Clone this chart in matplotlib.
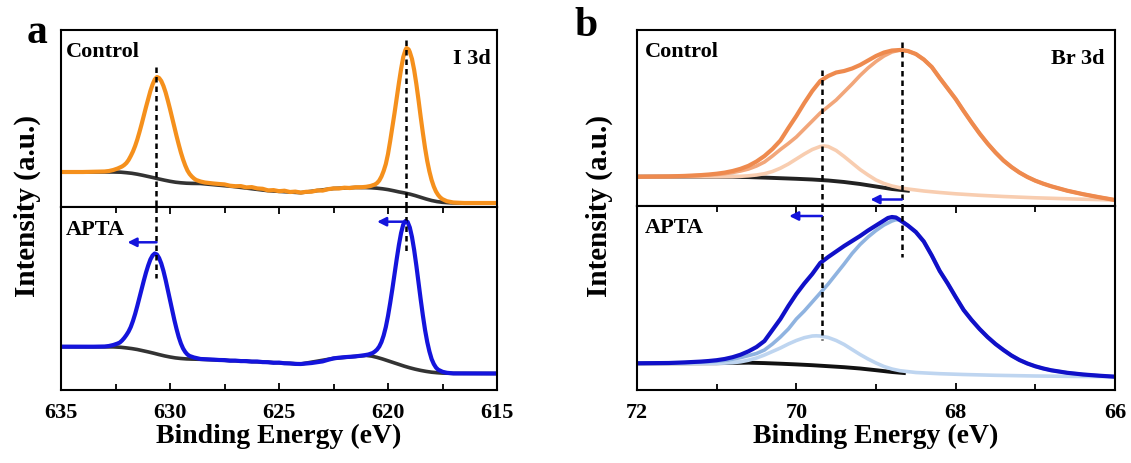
import matplotlib

matplotlib.use("Agg")

import matplotlib.pyplot as plt
from matplotlib.ticker import MultipleLocator

plt.rcParams["font.family"] = ["Liberation Serif", "DejaVu Serif"]
plt.rcParams["font.weight"] = "bold"
plt.rcParams["axes.labelweight"] = "bold"

# ---- I 3d, Control (upper a) ----
ctrl_i_x = [635, 634, 633.0, 632.8, 632.6, 632.4, 632.2, 632.1, 632.0, 631.9, 631.8, 631.7, 631.6,
            631.5, 631.4, 631.3, 631.2, 631.1, 631.0, 630.9, 630.8, 630.7, 630.6, 630.5, 630.4,
            630.3, 630.2, 630.1, 630.0, 629.9, 629.8, 629.7, 629.6, 629.5, 629.4, 629.3, 629.2,
            629.1, 629.0, 628.9, 628.8, 628.6, 628.4, 628.0, 627.75, 627.5, 627.25, 627.0, 626.75,
            626.5, 626.25, 626.0, 625.75, 625.5, 625.25, 625.0, 624.75, 624.5, 624.25, 624.0,
            623.75, 623.5, 623.25, 623.0, 622.75, 622.5, 622.25, 622.0, 621.75, 621.5, 621.2,
            621.0, 620.8, 620.6, 620.5, 620.4, 620.3, 620.2, 620.1, 620.0, 619.9, 619.8, 619.7,
            619.6, 619.5, 619.4, 619.3, 619.2, 619.15, 619.05, 619.0, 618.9, 618.8, 618.7, 618.6,
            618.5, 618.4, 618.3, 618.2, 618.1, 618.0, 617.9, 617.8, 617.7, 617.6, 617.5, 617.3,
            617.0, 616.5, 615.0]
ctrl_i_y = [35, 35, 35.5, 36, 37, 38.5, 40.5, 42, 44, 47, 51, 55.5, 61,
            67.5, 75, 83, 91.5, 100, 108, 116, 122.5, 127.5, 130, 129, 126,
            121, 114.5, 106.5, 98, 89, 80, 71, 62.5, 54.5, 47.5, 41.5, 36.5,
            33, 30.5, 28.5, 27, 25.5, 24.5, 23.5, 23.0, 22.6, 21.3, 20.8, 20.9,
            19.6, 19.9, 18.6, 18.2, 16.6, 16.9, 15.8, 16.3, 15.0, 15.4, 14.4,
            15.2, 15.3, 16.6, 16.4, 17.8, 18.6, 18.5, 19.3, 19.0, 19.7, 19.8,
            20.2, 21, 22.5, 24, 26.5, 30.5, 36, 43, 53, 66, 80, 94,
            109, 124, 138, 150, 157, 159, 157.5, 155, 148, 137, 123, 107,
            90, 74, 59, 46, 35.5, 27, 20.5, 15.5, 12, 9.5, 7.8, 5.8,
            4.5, 4, 4]
ctrl_i_bg_x = [635, 632.6, 632.25, 632.0, 631.75, 631.5, 631.25, 631.0, 630.75, 630.5, 630.25,
               630.0, 629.75, 629.5, 629.25, 629.0, 628.6, 627.1, 625.5, 624.0, 622.5, 621.5,
               621.0, 620.75, 620.5, 620.25, 620.0, 619.75, 619.5, 619.25, 619.0, 618.75, 618.5,
               618.25, 618.0, 617.75, 617.5, 617.25, 617.0, 615]
ctrl_i_bg_y = [35, 35, 34.8, 34.3, 33.7, 32.8, 31.7, 30.5, 29.3, 28, 26.8,
               25.7, 24.8, 24.2, 23.8, 23.6, 23.5, 20.5, 16.3, 14.3, 18.5, 19.5,
               19.4, 19.2, 18.8, 18.2, 17.4, 16.3, 15.1, 14.1, 12.9, 11.4, 9.7,
               8.0, 6.5, 5.4, 4.7, 4.3, 4.1, 4]

# ---- I 3d, APTA (lower a) ----
apta_i_x = [635, 633.5, 633.0, 632.8, 632.6, 632.4, 632.3, 632.2, 632.1, 632.0, 631.9, 631.8, 631.7,
            631.6, 631.5, 631.4, 631.3, 631.2, 631.1, 631.0, 630.9, 630.8, 630.7, 630.6, 630.5,
            630.4, 630.3, 630.2, 630.1, 630.0, 629.9, 629.8, 629.7, 629.6, 629.5, 629.4, 629.3,
            629.2, 629.1, 628.9, 628.6, 628.0, 627.75, 627.5, 627.25, 627.0, 626.75, 626.5,
            626.25, 626.0, 625.75, 625.5, 625.25, 625.0, 624.75, 624.5, 624.25, 624.0, 623.75,
            623.5, 623.25, 623.0, 622.75, 622.5, 622.25, 622.0, 621.75, 621.5, 621.1, 620.9,
            620.7, 620.6, 620.5, 620.4, 620.3, 620.2, 620.1, 620.0, 619.9, 619.8, 619.7, 619.6,
            619.5, 619.4, 619.3, 619.2, 619.1, 619.0, 618.9, 618.8, 618.7, 618.6, 618.5, 618.4,
            618.3, 618.2, 618.1, 618.0, 617.9, 617.8, 617.7, 617.5, 617.3, 617.0, 615.0]
apta_i_y = [43.3, 43.3, 43.5, 44, 45, 46.5, 47.5, 49.5, 52, 55, 58.5, 63, 69,
            76, 84, 92.5, 101, 109.5, 117.5, 124.5, 130.5, 134.5, 136.5, 135.5, 132,
            126.5, 119, 110, 100, 90, 80, 70, 61, 53, 46.5, 41.5, 38,
            35.5, 34, 32.5, 31, 30.4, 30.0, 29.9, 29.3, 29.4, 28.9, 28.9,
            28.4, 28.5, 27.9, 27.8, 27.2, 27.4, 26.7, 26.6, 26.1, 26.0, 26.5,
            27.0, 27.8, 28.6, 30.2, 31.6, 32.3, 32.8, 33.2, 33.6, 34.7, 35.5,
            37, 38.5, 40.5, 43.5, 48, 54.5, 63, 74, 87, 101, 116, 131,
            145, 157, 165.5, 169, 168, 162.5, 153, 140, 124.5, 107.5, 90.5, 74.5,
            60, 48, 38.5, 31, 26, 22.5, 20.3, 18.2, 17.2, 16.6, 16.5]
apta_i_bg_x = [635, 632.6, 632.25, 632.0, 631.75, 631.5, 631.25, 631.0, 630.75, 630.5, 630.25,
               630.0, 629.75, 629.5, 629.25, 629.0, 628.6, 627.1, 625.5, 624.0, 622.5, 621.5,
               621.0, 620.75, 620.5, 620.25, 620.0, 619.75, 619.5, 619.25, 619.0, 618.75, 618.5,
               618.25, 618.0, 617.75, 617.5, 617.0, 615]
apta_i_bg_y = [43.3, 43.1, 42.7, 42.1, 41.4, 40.5, 39.3, 38.1, 36.8, 35.4, 34.1,
               33.0, 32.1, 31.5, 31.1, 30.9, 30.7, 29.3, 27.7, 26, 31.6, 33.6,
               34.6, 33.9, 32.6, 31.0, 29.2, 27.4, 25.6, 23.8, 22.2, 20.8, 19.6,
               18.6, 17.8, 17.3, 16.9, 16.6, 16.5]

# ---- Br 3d, Control (upper b) ----
ctrl_br_x = [72.0, 71.6, 71.4, 71.2, 71.1, 71.0, 70.9, 70.8, 70.7, 70.6, 70.5, 70.4, 70.3, 70.2,
             70.1, 70.0, 69.9, 69.8, 69.7, 69.6, 69.5, 69.4, 69.3, 69.2, 69.1, 69.0, 68.9, 68.8,
             68.7, 68.6, 68.5, 68.4, 68.3, 68.2, 68.1, 68.0, 67.9, 67.8, 67.7, 67.6, 67.5, 67.4,
             67.3, 67.2, 67.1, 67.0, 66.9, 66.8, 66.6, 66.4, 66.2, 66.0]
ctrl_br_y = [29.3, 29.6, 30.1, 30.9, 31.5, 32.3, 33.4, 35, 37.2, 40.2, 44.5, 50, 57, 65.5,
             78, 90, 103, 115, 125, 130, 133.5, 135, 137.5, 141, 145.5, 150, 153.5, 155.5,
             156, 155, 152, 146.5, 139, 128, 117.5, 107, 95, 83.5, 72.5, 62.5, 53.5, 45.5,
             39, 33.5, 29, 25.3, 22.3, 19.7, 15.3, 11.8, 8.8, 6]
ctrl_br_main_x = [72.0, 71.6, 71.4, 71.2, 71.0, 70.9, 70.8, 70.7, 70.6, 70.5, 70.4, 70.3, 70.2,
                  70.1, 70.0, 69.9, 69.8, 69.7, 69.6, 69.5, 69.4, 69.3, 69.2, 69.1, 69.0, 68.9,
                  68.8, 68.7]
ctrl_br_main_y = [29.3, 29.5, 29.9, 30.5, 31.5, 32.3, 33.5, 35, 37, 40, 44, 50, 56.5,
                  62.5, 69, 77, 85, 93, 99.5, 106, 114, 122, 130.5, 138, 144.5, 150,
                  154, 156]
ctrl_br_small_x = [72.0, 71.0, 70.8, 70.7, 70.6, 70.5, 70.4, 70.3, 70.2, 70.1, 70.0, 69.9, 69.8,
                   69.7, 69.65, 69.6, 69.5, 69.4, 69.3, 69.2, 69.1, 69.0, 68.9, 68.8, 68.7, 68.6,
                   68.4, 68.2, 68.0, 67.7, 67.4, 67.0, 66.5, 66.0]
ctrl_br_small_y = [29.3, 29.3, 29.4, 29.7, 30.2, 31, 32.3, 34.5, 37.8, 42, 47, 52, 56.5,
                   59.5, 60, 59.5, 55.5, 49.5, 43, 36.5, 31, 26, 22.5, 20, 18.3, 17,
                   15, 13.5, 12.2, 10.7, 9.5, 8.2, 7, 6]
ctrl_br_bg_x = [72.0, 71.0, 70.8, 70.6, 70.4, 70.2, 70.0, 69.8, 69.6, 69.4, 69.2, 69.0, 68.8, 68.6]
ctrl_br_bg_y = [29.3, 29.3, 29.2, 28.9, 28.4, 27.8, 27.2, 26.5, 25.5, 24, 22, 19.5, 17, 15.3]

# ---- Br 3d, APTA (lower b) ----
apta_br_x = [72.0, 71.6, 71.4, 71.2, 71.1, 71.0, 70.9, 70.8, 70.7, 70.6, 70.5, 70.4, 70.3, 70.2,
             70.1, 70.0, 69.9, 69.8, 69.7, 69.6, 69.5, 69.4, 69.3, 69.2, 69.1, 69.0, 68.9, 68.85,
             68.8, 68.75, 68.7, 68.6, 68.5, 68.4, 68.3, 68.2, 68.1, 68.0, 67.9, 67.8, 67.7, 67.6,
             67.5, 67.4, 67.3, 67.2, 67.1, 67.0, 66.9, 66.8, 66.6, 66.4, 66.2, 66.0]
apta_br_y = [26.7, 27, 27.6, 28.4, 29, 29.8, 31, 32.8, 35.3, 38.7, 43, 49, 60, 71,
             84, 96, 106.5, 116, 127, 133, 138.5, 144, 149, 154, 159.5, 164.5, 169.5, 172,
             173, 172.5, 170, 164.5, 158, 148.5, 134.5, 119, 106.5, 93, 80, 70, 61, 53,
             46, 40, 34.5, 30, 26.5, 23.7, 21.5, 19.7, 17.2, 15.5, 14.3, 13.3]
apta_br_main_x = [72.0, 71.6, 71.4, 71.2, 71.0, 70.9, 70.8, 70.7, 70.6, 70.5, 70.4, 70.3, 70.2,
                  70.1, 70.0, 69.9, 69.8, 69.7, 69.6, 69.5, 69.4, 69.3, 69.2, 69.1, 69.0, 68.9,
                  68.85, 68.8, 68.75]
apta_br_main_y = [26.7, 26.9, 27.3, 27.9, 28.8, 29.6, 30.8, 32.4, 34.4, 36.5, 40, 46, 53,
                  61, 71, 79, 88, 97, 106, 116, 126, 136.5, 145.5, 153, 159.5, 165,
                  167, 169, 170.3]
apta_br_small_x = [72.0, 71.0, 70.9, 70.8, 70.7, 70.6, 70.5, 70.4, 70.3, 70.2, 70.1, 70.0, 69.9,
                   69.8, 69.75, 69.7, 69.6, 69.5, 69.4, 69.3, 69.2, 69.1, 69.0, 68.9, 68.8, 68.7,
                   68.5, 68.2, 67.9, 67.5, 67.0, 66.5, 66.0]
apta_br_small_y = [26.7, 26.7, 26.9, 27.3, 28.2, 29.8, 32, 35, 38.5, 42, 46, 49.5, 52.3,
                   54, 54.2, 54, 52.5, 49.5, 45.5, 40.5, 35.5, 31, 27, 23.5, 21, 19.3,
                   17.5, 16.3, 15.5, 14.7, 14, 13.6, 13.3]
apta_br_bg_x = [72.0, 71.0, 70.8, 70.6, 70.4, 70.2, 70.0, 69.8, 69.6, 69.4, 69.2, 69.0, 68.8, 68.65]
apta_br_bg_y = [26.7, 26.8, 27.1, 27.3, 26.9, 26.3, 25.6, 24.8, 23.8, 22.8, 21.5, 19.8, 18, 17]

# peak positions (dashed guides)
i_peaks = [630.62, 619.16]
br_peaks = [69.68, 68.675]

ORANGE = "#f5901c"
BLUE = "#1414dc"
BR_OR = ["#ee8a4e", "#f2a67a", "#f8cdb0"]
BR_BL = ["#1010c8", "#8fb3e0", "#bed5f0"]

W, H = 1131, 463
fig = plt.figure(figsize=(W / 100, H / 100), dpi=100)


def px_axes(x0, x1, y0, y1):
    return fig.add_axes([x0 / W, 1 - y1 / H, (x1 - x0) / W, (y1 - y0) / H])


def style(ax, lower, major, minor):
    for s in ax.spines.values():
        s.set_linewidth(1.5)
    ax.set_yticks([])
    ax.xaxis.set_major_locator(MultipleLocator(major))
    ax.xaxis.set_minor_locator(MultipleLocator(minor))
    if lower:
        ax.tick_params(axis="x", which="both", direction="in", top=True, bottom=True,
                       width=1.3, labelsize=16, pad=9)
        ax.tick_params(axis="x", which="major", length=5)
        ax.tick_params(axis="x", which="minor", length=4)
        for lab in ax.get_xticklabels():
            lab.set_fontweight("bold")
    else:
        ax.tick_params(axis="x", which="both", bottom=False, labelbottom=False)


def dash(ax, x, y0, y1):
    ax.plot([x, x], [y0, y1], color="black", lw=1.8, ls=(0, (2.2, 1.6)), zorder=5)


def arrow(ax, x_from, x_to, y):
    ax.annotate("", xy=(x_to, y), xytext=(x_from, y),
                arrowprops=dict(arrowstyle="-|>", color=BLUE, lw=1.8, mutation_scale=13,
                                shrinkA=0, shrinkB=0), zorder=6)


def with_tail(main_x, main_y, env_x, env_y):
    # fitted component on the left, envelope where they coincide on the right
    tail = [(x, y) for x, y in zip(env_x, env_y) if x < main_x[-1]]
    return main_x + [t[0] for t in tail], main_y + [t[1] for t in tail]


# ---------------- panel a ----------------
a_up = px_axes(61, 497, 30, 207)
a_lo = px_axes(61, 497, 207, 390)
for ax, lower in ((a_up, False), (a_lo, True)):
    ax.set_xlim(635, 615)
    style(ax, lower, 5, 2.5)
a_up.set_ylim(0, 177)
a_lo.set_ylim(0, 183)

a_up.plot(ctrl_i_bg_x, ctrl_i_bg_y, color="#333333", lw=2.6)
a_up.plot(ctrl_i_x, ctrl_i_y, color=ORANGE, lw=3)
a_lo.plot(apta_i_bg_x, apta_i_bg_y, color="#333333", lw=2.6)
a_lo.plot(apta_i_x, apta_i_y, color=BLUE, lw=3)

dash(a_up, i_peaks[0], 140, 0)
dash(a_up, i_peaks[1], 167, 0)
dash(a_lo, i_peaks[0], 183, 112)
dash(a_lo, i_peaks[1], 183, 138)
arrow(a_lo, i_peaks[0], 631.95, 147.7)
arrow(a_lo, i_peaks[1], 620.5, 168.3)

a_up.text(0.012, 0.93, "Control", transform=a_up.transAxes, fontsize=16, ha="left", va="top")
a_up.text(0.985, 0.89, "I 3d", transform=a_up.transAxes, fontsize=16, ha="right", va="top")
a_lo.text(0.012, 0.93, "APTA", transform=a_lo.transAxes, fontsize=16, ha="left", va="top")
a_lo.set_xlabel("Binding Energy (eV)", fontsize=20, labelpad=1)

# ---------------- panel b ----------------
b_up = px_axes(637, 1115, 30, 206)
b_lo = px_axes(637, 1115, 206, 390)
for ax, lower in ((b_up, False), (b_lo, True)):
    ax.set_xlim(72, 66)
    style(ax, lower, 2, 1)
b_up.set_ylim(0, 176)
b_lo.set_ylim(0, 184)

b_up.plot(ctrl_br_bg_x, ctrl_br_bg_y, color="#222222", lw=2.8)
b_up.plot(ctrl_br_small_x, ctrl_br_small_y, color=BR_OR[2], lw=2.6)
b_up.plot(*with_tail(ctrl_br_main_x, ctrl_br_main_y, ctrl_br_x, ctrl_br_y), color=BR_OR[1], lw=2.6)
b_up.plot(ctrl_br_x, ctrl_br_y, color=BR_OR[0], lw=3)

b_lo.plot(apta_br_bg_x, apta_br_bg_y, color="#111111", lw=2.8)
b_lo.plot(apta_br_small_x, apta_br_small_y, color=BR_BL[2], lw=2.6)
b_lo.plot(*with_tail(apta_br_main_x, apta_br_main_y, apta_br_x, apta_br_y), color=BR_BL[1], lw=2.6)
b_lo.plot(apta_br_x, apta_br_y, color=BR_BL[0], lw=3)

dash(b_up, br_peaks[0], 136, 0)
dash(b_up, br_peaks[1], 164.3, 0)
dash(b_lo, br_peaks[0], 184, 50)
dash(b_lo, br_peaks[1], 184, 133.3)
arrow(b_up, br_peaks[1], 69.07, 6.5)
arrow(b_lo, br_peaks[0], 70.09, 174)

b_up.text(0.017, 0.93, "Control", transform=b_up.transAxes, fontsize=16, ha="left", va="top")
b_up.text(0.978, 0.89, "Br 3d", transform=b_up.transAxes, fontsize=16, ha="right", va="top")
b_lo.text(0.017, 0.935, "APTA", transform=b_lo.transAxes, fontsize=16, ha="left", va="top")
b_lo.set_xlabel("Binding Energy (eV)", fontsize=20, labelpad=1)

# y labels and panel letters
fig.text(27 / W, 1 - 206 / H, "Intensity (a.u.)", rotation=90, fontsize=21, ha="center", va="center")
fig.text(599 / W, 1 - 206 / H, "Intensity (a.u.)", rotation=90, fontsize=21, ha="center", va="center")
fig.text(37 / W, 1 - 33 / H, "a", fontsize=30, ha="center", va="center")
fig.text(586 / W, 1 - 26 / H, "b", fontsize=30, ha="center", va="center")

fig.savefig("out.png", dpi=100)
